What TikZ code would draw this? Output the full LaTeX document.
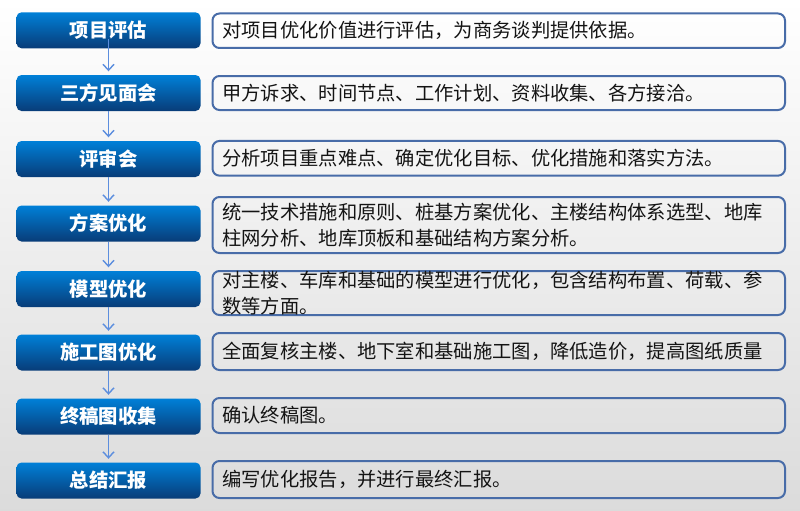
\documentclass[tikz,border=0pt]{standalone}
\usepackage{fontspec}
\setmainfont{Noto Sans CJK SC}
\usetikzlibrary{arrows.meta}
\definecolor{bluetop}{RGB}{0,128,216}
\definecolor{bluemid}{RGB}{0,104,190}
\definecolor{bluebot}{RGB}{8,60,120}
\definecolor{edgeblue}{RGB}{72,108,168}
\definecolor{arrowblue}{RGB}{92,142,222}
\definecolor{txt}{RGB}{20,20,20}
\begin{document}
\begin{tikzpicture}[x=1pt,y=-1pt,
  stepbox/.style={rounded corners=5pt, top color=bluetop, middle color=bluemid, bottom color=bluebot,
    minimum width=184pt, minimum height=36pt, inner sep=0pt, text=white,
    font=\fontsize{19.3}{24}\selectfont\bfseries},
  descbox/.style={draw=edgeblue, line width=2pt, rounded corners=7pt,
    minimum width=572.5pt, text width=553pt, inner xsep=9.75pt, inner ysep=0pt, align=left,
    text=txt, font=\fontsize{19.3}{26}\selectfont},
  flow/.style={draw=arrowblue, line width=1.4pt, -{Straight Barb[length=6pt,width=11pt,line width=1.4pt]}, shorten >=3.5pt}]
\shade[top color=white, bottom color=gray!28] (0,0) rectangle (800,511);
\useasboundingbox (0,0) rectangle (800,511);

\node[stepbox] (b1) at (108.5,30.3) {项目评估};
\node[stepbox] (b2) at (108.5,93) {三方见面会};
\node[stepbox] (b3) at (108.5,159) {评审会};
\node[stepbox] (b4) at (108.5,223.5) {方案优化};
\node[stepbox] (b5) at (108.5,289) {模型优化};
\node[stepbox] (b6) at (108.5,352.5) {施工图优化};
\node[stepbox] (b7) at (108.5,416.5) {终稿图收集};
\node[stepbox] (b8) at (108.5,480.5) {总结汇报};

\node[descbox, minimum height=34.5pt] (d1) at (498.75,30.75) {对项目优化价值进行评估，为商务谈判提供依据。};
\node[descbox, minimum height=34pt] (d2) at (498.75,93) {甲方诉求、时间节点、工作计划、资料收集、各方接洽。};
\node[descbox, minimum height=34.7pt] (d3) at (498.75,158.3) {分析项目重点难点、确定优化目标、优化措施和落实方法。};
\node[descbox, minimum height=56pt] (d4) at (498.75,225) {统一技术措施和原则、桩基方案优化、主楼结构体系选型、地库\\柱网分析、地库顶板和基础结构方案分析。};
\node[descbox, minimum height=44pt] (d5) at (498.75,293) {对主楼、车库和基础的模型进行优化，包含结构布置、荷载、参\\数等方面。};
\node[descbox, minimum height=37pt] (d6) at (498.75,351.5) {全面复核主楼、地下室和基础施工图，降低造价，提高图纸质量};
\node[descbox, minimum height=35pt] (d7) at (498.75,415.5) {确认终稿图。};
\node[descbox, minimum height=37pt] (d8) at (498.75,479.5) {编写优化报告，并进行最终汇报。};

\draw[flow] ([yshift=9pt]b1.south) -- (b2.north);
\draw[flow] (b2.south) -- (b3.north);
\draw[flow] (b3.south) -- (b4.north);
\draw[flow] (b4.south) -- (b5.north);
\draw[flow] (b5.south) -- (b6.north);
\draw[flow] (b6.south) -- (b7.north);
\draw[flow] (b7.south) -- (b8.north);
\end{tikzpicture}
\end{document}
